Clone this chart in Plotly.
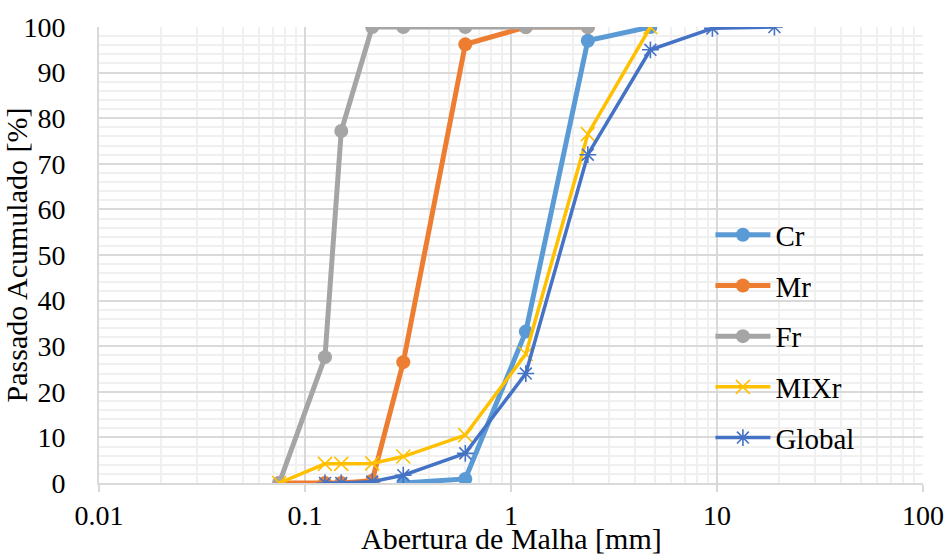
import plotly.graph_objects as go

# Sieve openings (mm) and cumulative passing (%) per material
cr_x = [0.3, 0.6, 1.18, 2.36, 4.75]
cr_y = [0.0, 0.9, 33.2, 97.0, 100.0]

mr_x = [0.075, 0.125, 0.15, 0.212, 0.3, 0.6, 1.18, 2.36]
mr_y = [0.0, 0.0, 0.0, 0.5, 26.5, 96.2, 100.0, 100.0]

fr_x = [0.075, 0.125, 0.15, 0.212, 0.3, 0.6, 1.18, 2.36]
fr_y = [0.0, 27.6, 77.2, 100.0, 100.0, 100.0, 100.0, 100.0]

mix_x = [0.075, 0.125, 0.15, 0.212, 0.3, 0.6, 1.18, 2.36, 4.75]
mix_y = [0.0, 4.2, 4.2, 4.3, 5.8, 10.5, 28.3, 76.5, 100.0]

glob_x = [0.125, 0.15, 0.212, 0.3, 0.6, 1.18, 2.36, 4.75, 9.5, 19]
glob_y = [0.0, 0.0, 0.3, 1.7, 6.5, 24.0, 72.0, 95.0, 99.7, 100.0]

x_ticks = [0.01, 0.1, 1, 10, 100]
x_tick_text = ["0.01", "0.1", "1", "10", "100"]
y_ticks = list(range(0, 101, 10))

FONT = "Liberation Serif, Times New Roman, serif"

fig = go.Figure()

series = [
    ("Cr", cr_x, cr_y, "#5B9BD5", 5, "circle", 14, None),
    ("Mr", mr_x, mr_y, "#ED7D31", 5, "circle", 14, None),
    ("Fr", fr_x, fr_y, "#A5A5A5", 5, "circle", 14, None),
    ("MIXr", mix_x, mix_y, "#FFC000", 3.5, "x-thin-open", 14, 1.6),
    ("Global", glob_x, glob_y, "#4472C4", 3.5, "asterisk-open", 14, 1.6),
]

for name, xs, ys, color, lw, sym, ms, mlw in series:
    marker = dict(symbol=sym, size=ms, color=color)
    if mlw is not None:
        marker["line"] = dict(color=color, width=mlw)
    fig.add_trace(go.Scatter(
        x=xs, y=ys, name=name, mode="lines+markers",
        line=dict(color=color, width=lw),
        marker=marker,
        legendgroup=name,
    ))

fig.update_layout(
    width=950, height=554,
    margin=dict(l=99, r=27, t=27, b=71),
    paper_bgcolor="white", plot_bgcolor="white",
    font=dict(family=FONT, size=28, color="black"),
    showlegend=True,
    legend=dict(
        x=0.742, y=0.60, xanchor="left", yanchor="top",
        bgcolor="rgba(0,0,0,0)", font=dict(family=FONT, size=29, color="black"),
        tracegroupgap=10, itemwidth=55,
    ),
    # x-axis title placed just below the tick labels
    annotations=[dict(
        text="Abertura de Malha [mm]", xref="paper", yref="paper",
        x=0.5, y=-0.1215, xanchor="center", yanchor="middle",
        showarrow=False, font=dict(family=FONT, size=30, color="black"),
    )],
)

fig.update_xaxes(
    type="log", range=[-2, 2], automargin=False,
    tickvals=x_ticks, ticktext=x_tick_text,
    tickfont=dict(family=FONT, size=28, color="black"),
    showgrid=True, gridcolor="#D9D9D9", gridwidth=1.5,
    ticks="outside", ticklen=7, tickcolor="#D9D9D9", tickwidth=1.5,
    minor=dict(dtick="D1", showgrid=True, gridcolor="#F0F0F0", gridwidth=1.5, ticks=""),
    showline=True, linecolor="#D9D9D9", linewidth=1.5,
    zeroline=False,
)

fig.update_yaxes(
    range=[0, 100], tickvals=y_ticks, automargin=False,
    tickfont=dict(family=FONT, size=28, color="black"),
    showgrid=True, gridcolor="#D9D9D9", gridwidth=1.5,
    minor=dict(dtick=2, showgrid=True, gridcolor="#F0F0F0", gridwidth=1.5, ticks=""),
    showline=True, linecolor="#D9D9D9", linewidth=2,
    zeroline=False, ticks="outside", ticklen=26, tickcolor="rgba(0,0,0,0)",
    title=dict(text="Passado Acumulado [%]", font=dict(family=FONT, size=30, color="black"), standoff=0),
)

fig.write_html("out.html")
